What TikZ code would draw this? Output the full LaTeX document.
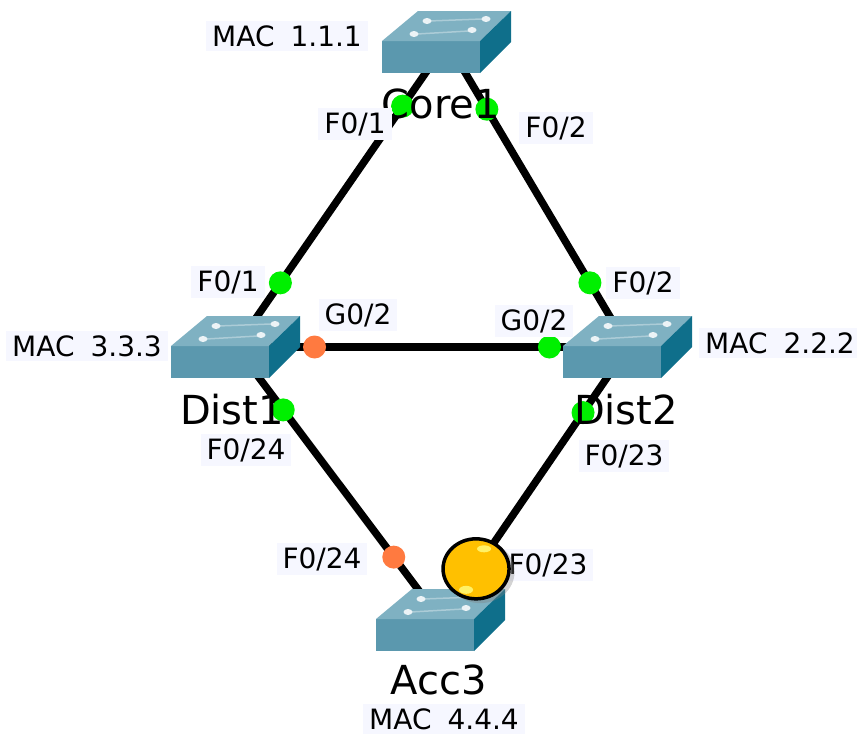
\documentclass[tikz,border=0pt]{standalone}
\usepackage{fontspec}
\setmainfont[WordSpace=1.8]{DejaVu Sans}
\usepackage{xcolor}
\usepackage{tikz}
\usetikzlibrary{shapes}
\usetikzlibrary{shadows}
\definecolor{switch_front}{HTML}{5B98AE}
\definecolor{switch_side}{HTML}{0F6F8B}
\definecolor{switch_top}{HTML}{7FB1C2}
\definecolor{label_back}{HTML}{F6F7FF}
\definecolor{port_green}{HTML}{00F000}
\definecolor{port_orange}{HTML}{FF7A40}
\definecolor{ball_yellow}{HTML}{FFC000}
\tikzset{ switch_box/.style = {inner sep=0pt, minimum size=0pt} }
\tikzset{ link/.style = {line width=7.5pt} }
\tikzset{ port_dot/.style = {circle, inner sep=0pt, minimum size=23pt} }
\tikzset{ up_port/.style = {port_dot, fill=port_green} }
\tikzset{ wait_port/.style = {port_dot, fill=port_orange} }
\tikzset{ port_label/.style = {fill=label_back, inner xsep=6pt, inner ysep=4pt, font=\fontsize{28}{30}\selectfont} }
\tikzset{ host_name/.style = {inner sep=0pt, font=\fontsize{40}{44}\selectfont} }
\tikzset{ warn_ball/.style = {ellipse, draw=black, line width=3.5pt, fill=ball_yellow, inner sep=0pt, minimum width=66pt, minimum height=60pt, drop shadow={opacity=.35, shadow scale=1.04, shadow xshift=4pt, shadow yshift=-3pt}} }
\newcommand{\switchicon}[1]{
  \begin{scope}[shift={(#1)}]
    \fill[switch_front] (-65,-1) rectangle (33,31);
    \fill[switch_top] (-65,-1) -- (-29,-31) -- (64,-31) -- (33,-1) -- cycle;
    \fill[switch_side] (33,-1) -- (64,-31) -- (64,0) -- (33,31) -- cycle;
    \draw[white!35!switch_top, line width=1.5pt] (-30,-8) -- (22,-11);
    \draw[white!35!switch_top, line width=1.5pt] (-18,-21) -- (35,-23);
    \foreach \px/\py in {-33/-8, 25/-12, -20/-21, 39/-23}
      \fill[white!85!switch_top] (\px,\py) ellipse (4.5 and 3);
  \end{scope}
}
\begin{document}
\begin{tikzpicture}[x=1pt,y=-1pt]
  \useasboundingbox (0,0) rectangle (857,736);
  \node[switch_box] (Core1) at (447,42) {};
  \node[switch_box] (Dist1) at (236,347) {};
  \node[switch_box] (Dist2) at (628,347) {};
  \node[switch_box] (Acc3) at (441,620) {};
  \draw[link] (Core1) to node[up_port,pos=.21] (c1a) {} node[up_port,pos=.79] (d1a) {} (Dist1);
  \draw[link] (Core1) to node[up_port,pos=.22] (c1b) {} node[up_port,pos=.79] (d2a) {} (Dist2);
  \draw[link] (Dist1) to node[wait_port,pos=.2] (d1b) {} node[up_port,pos=.8] (d2b) {} (Dist2);
  \draw[link] (Dist1) to node[up_port,pos=.23] (d1c) {} node[wait_port,pos=.77] (a3a) {} (Acc3);
  \draw[link] (Dist2) to node[up_port,pos=.24] (d2c) {} (Acc3);
  \node[host_name] (nameC) at (441,104) {Core1};
  \node[host_name] (nameD1) at (232,410) {Dist1};
  \node[host_name] (nameD2) at (626,410) {Dist2};
  \node[host_name] (nameA) at (439,680) {Acc3};
  \switchicon{Core1}
  \switchicon{Dist1}
  \switchicon{Dist2}
  \switchicon{Acc3}
  \node[port_label] (mac1) at (287,36) {MAC 1.1.1};
  \node[port_label] (mac3) at (87,346) {MAC 3.3.3};
  \node[port_label] (mac2) at (780,343) {MAC 2.2.2};
  \node[port_label] (mac4) at (444,719) {MAC 4.4.4};
  \node[port_label] (lc1a) at (355,124) {F0/1};
  \node[port_label] (lc1b) at (556,128) {F0/2};
  \node[port_label] (ld1a) at (228,282) {F0/1};
  \node[port_label] (ld2a) at (643,283) {F0/2};
  \node[port_label] (ld1b) at (358,315) {G0/2};
  \node[port_label] (ld2b) at (534,321) {G0/2};
  \node[port_label] (ld1c) at (246,450) {F0/24};
  \node[port_label] (ld2c) at (624,456) {F0/23};
  \node[port_label] (la3a) at (322,559) {F0/24};
  \node[port_label] (la3b) at (548,565) {F0/23};
  \path (Dist2) to node[warn_ball,pos=.813] (ball) {} (Acc3);
  \begin{scope}[shift={(ball)}]
    \fill[yellow!55!white!90!ball_yellow] (8,-20) ellipse (7 and 3.5);
    \fill[yellow!55!white!90!ball_yellow] (-10,21) ellipse (7 and 4);
  \end{scope}
\end{tikzpicture}
\end{document}
